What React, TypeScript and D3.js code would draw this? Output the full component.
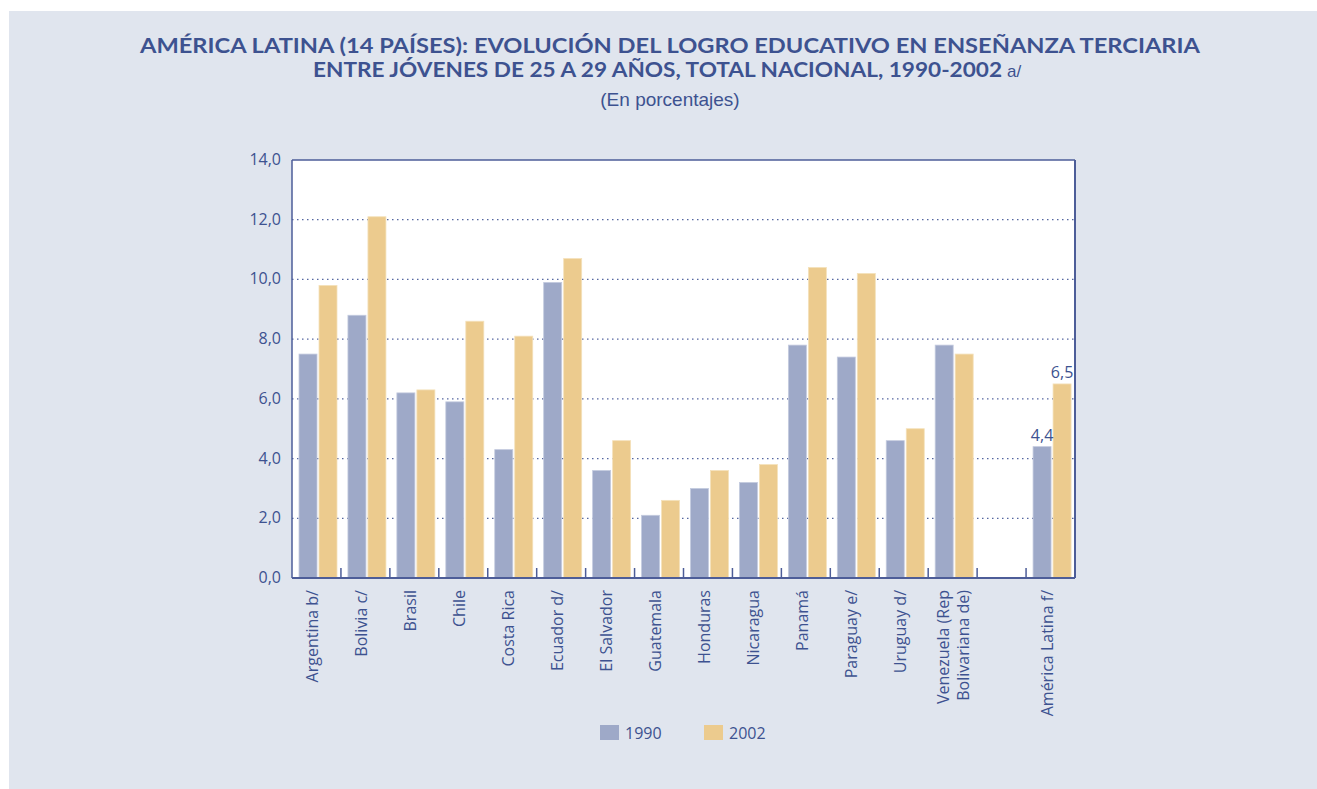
import React from "react";
import * as d3 from "d3";

const categories = [
  "Argentina b/", "Bolivia c/", "Brasil", "Chile", "Costa Rica", "Ecuador d/",
  "El Salvador", "Guatemala", "Honduras", "Nicaragua", "Panamá", "Paraguay e/",
  "Uruguay d/", "Venezuela (Rep|Bolivariana de)", "", "América Latina f/",
];
const values1990 = [7.5, 8.8, 6.2, 5.9, 4.3, 9.9, 3.6, 2.1, 3.0, 3.2, 7.8, 7.4, 4.6, 7.8, null, 4.4];
const values2002 = [9.8, 12.1, 6.3, 8.6, 8.1, 10.7, 4.6, 2.6, 3.6, 3.8, 10.4, 10.2, 5.0, 7.5, null, 6.5];
const seriesNames = ["1990", "2002"];
const yTicks = [0, 2, 4, 6, 8, 10, 12, 14];
const labelledCategory = "América Latina f/";

const W = 1317, H = 789;
const BG = "#e0e5ee";
const TEXT = "#3d5290";
const AXIS = "#4d5d98";
const COLORS = ["#9ea9c8", "#eccb8e"];

export default function App() {
  const left = 292, right = 1075, top = 160, bottom = 578;
  const x = d3.scaleBand<string>().domain(categories.map((c, i) => String(i))).range([left, right]).padding(0);
  const inner = d3.scaleBand<string>().domain(seriesNames).range([7, 45]).paddingInner(0.1).paddingOuter(0);
  const y = d3.scaleLinear().domain([0, 14]).range([bottom, top]);
  const fmt = (v: number) => d3.format(".1f")(v).replace(".", ",");
  const series = [values1990, values2002];
  const font = "'Open Sans', 'Noto Sans', sans-serif";
  const fs = 16;
  const titleFont = "Lato, 'Open Sans', sans-serif";

  return (
    <svg width={W} height={H} style={{ position: "absolute", left: 0, top: 0, display: "block" }}>
      <rect x={0} y={0} width={W} height={H} fill="#ffffff" />
      <rect x={9} y={11} width={W - 9} height={H - 11} fill={BG} />
      <text x={140} y={53} textLength={1060} lengthAdjust="spacingAndGlyphs" fontFamily={titleFont} fontWeight={700} fontSize={21} fill={TEXT}>
        AMÉRICA LATINA (14 PAÍSES): EVOLUCIÓN DEL LOGRO EDUCATIVO EN ENSEÑANZA TERCIARIA
      </text>
      <text x={313} y={77} textLength={689} lengthAdjust="spacingAndGlyphs" fontFamily={titleFont} fontWeight={700} fontSize={21} fill={TEXT}>
        ENTRE JÓVENES DE 25 A 29 AÑOS, TOTAL NACIONAL, 1990-2002
      </text>
      <text x={1007} y={77} fontFamily="'Liberation Sans', Arial, sans-serif" fontSize={17} fill={TEXT}>a/</text>
      <text x={670} y={106} textAnchor="middle" fontFamily="'Liberation Sans', Arial, sans-serif" fontSize={19} fill={TEXT}>
        (En porcentajes)
      </text>

      <rect x={left} y={top} width={right - left} height={bottom - top} fill="#ffffff" />
      {yTicks.slice(1, -1).map((t) => (
        <line key={t} x1={left} x2={right} y1={y(t)} y2={y(t)} stroke="#5566a0" strokeWidth={1.2} strokeDasharray="1.5,3.5" />
      ))}
      {yTicks.map((t) => (
        <text key={t} x={281} y={y(t) + 5} textAnchor="end" fontFamily={font} fontSize={fs} fill={TEXT}>
          {fmt(t)}
        </text>
      ))}

      {categories.map((c, i) =>
        series.map((vals, s) => {
          const v = vals[i];
          if (v == null) return null;
          const bx = (x(String(i)) as number) + (inner(seriesNames[s]) as number);
          return (
            <rect key={`${i}-${s}`} x={bx} y={y(v)} width={inner.bandwidth()} height={bottom - y(v)}
              fill={COLORS[s]} stroke={s === 0 ? "#c4cbdf" : "#f4e1bb"} strokeWidth={0.8} />
          );
        })
      )}

      {categories.map((c, i) =>
        c === labelledCategory
          ? series.map((vals, s) => {
              const v = vals[i] as number;
              const bx = (x(String(i)) as number) + (inner(seriesNames[s]) as number) + inner.bandwidth() / 2;
              return (
                <text key={`l${s}`} x={bx} y={y(v) - 6} textAnchor="middle" fontFamily={font} fontSize={fs} fill={TEXT}>
                  {fmt(v)}
                </text>
              );
            })
          : null
      )}

      {/* plot frame */}
      <line x1={left} x2={right} y1={top} y2={top} stroke={AXIS} strokeWidth={1.5} />
      <line x1={right} x2={right} y1={top} y2={bottom} stroke={AXIS} strokeWidth={2} />
      <line x1={left} x2={left} y1={top} y2={bottom} stroke={AXIS} strokeWidth={1.5} />
      <line x1={left} x2={right} y1={bottom} y2={bottom} stroke={AXIS} strokeWidth={2} />
      {categories.map((c, i) => {
        const tx = (x(String(i)) as number) + x.bandwidth();
        return <line key={`t${i}`} x1={tx} x2={tx} y1={bottom} y2={bottom - 10} stroke={AXIS} strokeWidth={1.5} />;
      })}

      {categories.map((c, i) => {
        if (!c) return null;
        const cx = (x(String(i)) as number) + x.bandwidth() / 2;
        const lines = c.split("|");
        const shift = lines.length === 1 ? -4 : 0;
        return (
          <text key={`c${i}`} transform={`translate(${cx + shift},590) rotate(-90)`} textAnchor="end" fontFamily={font} fontSize={fs} fill={TEXT}>
            {lines.map((ln, k) => (
              <tspan key={k} x={0} y={(k - (lines.length - 1) / 2) * 20 + 6}>{ln}</tspan>
            ))}
          </text>
        );
      })}

      {seriesNames.map((n, s) => (
        <g key={n} transform={`translate(${600 + s * 104},725)`}>
          <rect x={0} y={0} width={19} height={15} fill={COLORS[s]} />
          <text x={25} y={14} fontFamily={font} fontSize={fs} fill={TEXT}>{n}</text>
        </g>
      ))}
    </svg>
  );
}
